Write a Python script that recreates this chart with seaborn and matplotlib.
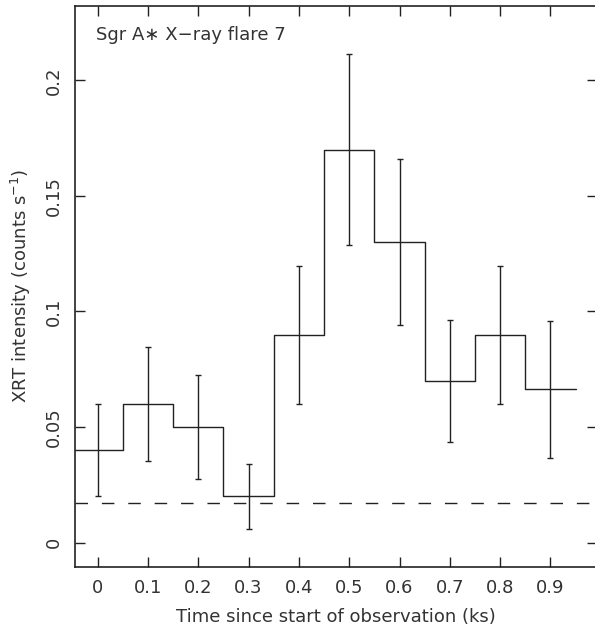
import numpy as np
import pandas as pd
import matplotlib
matplotlib.use('Agg')
import matplotlib.pyplot as plt
import seaborn as sns

# bin centres (ks) and count rates
time_ks = [0.0, 0.1, 0.2, 0.3, 0.4, 0.5, 0.6, 0.7, 0.8, 0.9]
rate = [0.040, 0.060, 0.050, 0.020, 0.090, 0.170, 0.130, 0.070, 0.090, 0.0663]
err_lo = [0.020, 0.0355, 0.0276, 0.0059, 0.060, 0.1286, 0.094, 0.0436, 0.060, 0.0368]
err_hi = [0.060, 0.0845, 0.0724, 0.0342, 0.1195, 0.2112, 0.166, 0.0963, 0.1198, 0.096]
bin_width = 0.1
background = 0.0172

title = 'Sgr A\u2217 X\u2212ray flare 7'
xlabel = 'Time since start of observation (ks)'
ylabel = 'XRT intensity (counts s$^{-1}$)'

sns.set_style('ticks')
plt.rcParams['font.family'] = ['DejaVu Sans']
plt.rcParams['mathtext.fontset'] = 'dejavusans'

ink = '#222222'
text_ink = '#333333'

# step outline: left edges + closing right edge
edges = np.append(np.array(time_ks) - bin_width / 2, time_ks[-1] + bin_width / 2)
df = pd.DataFrame({'t': edges, 'rate': np.append(rate, rate[-1])})

fig = plt.figure(figsize=(5.95, 6.31), dpi=100)
# right spine sits just past the image edge, as in the cropped original
ax = fig.add_axes([0.126, 0.102, 0.877, 0.889])

sns.lineplot(data=df, x='t', y='rate', drawstyle='steps-post', estimator=None,
             color=ink, linewidth=1.0, ax=ax)

yerr = np.array([np.array(rate) - np.array(err_lo), np.array(err_hi) - np.array(rate)])
ax.errorbar(time_ks, rate, yerr=yerr, fmt='none', ecolor=ink, elinewidth=1.0,
            capsize=2, capthick=1.0)

ax.axhline(background, color=ink, linewidth=1.0, dashes=(9, 10))

ax.set_xlim(-0.045, 0.992)
ax.set_ylim(-0.0104, 0.2323)
ax.set_xticks(time_ks)
ax.set_xticklabels(['0', '0.1', '0.2', '0.3', '0.4', '0.5', '0.6', '0.7', '0.8', '0.9'])
ax.set_yticks([0, 0.05, 0.1, 0.15, 0.2])
ax.set_yticklabels(['0', '0.05', '0.1', '0.15', '0.2'], rotation=90, va='center')

ax.tick_params(direction='in', length=7, width=1.0, top=True, right=True,
               labelsize=13, colors=ink, labelcolor=text_ink, pad=9)
for s in ax.spines.values():
    s.set_linewidth(1.2)
    s.set_color(ink)

ax.set_xlabel(xlabel, fontsize=13, color=text_ink, labelpad=8)
ax.set_ylabel(ylabel, fontsize=13, color=text_ink, labelpad=8)
ax.text(0.04, 0.948, title, transform=ax.transAxes, ha='left', va='center',
        fontsize=13, color=text_ink)

fig.savefig('out.png', dpi=100)
